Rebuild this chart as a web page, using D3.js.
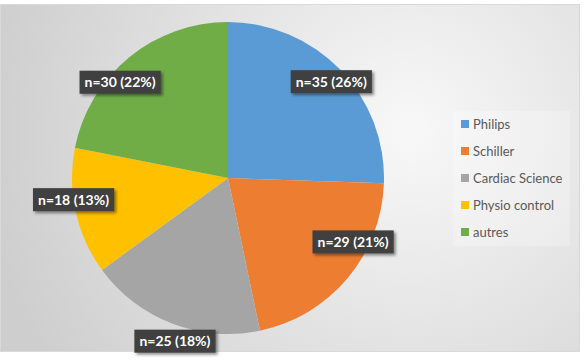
<!DOCTYPE html>
<html>
<head>
<meta charset="utf-8">
<script src="https://cdn.jsdelivr.net/npm/d3@7"></script>
<style>
  html, body { margin: 0; padding: 0; background: #fff; }
  svg { display: block; }
  .legend text { font-family: Lato, "Open Sans", sans-serif; font-size: 13px; fill: #595959; }
  .labels text { font-family: Lato, "Open Sans", sans-serif; font-size: 14px; font-weight: bold; fill: #fff; }
</style>
</head>
<body>
<div id="chart"></div>
<script>
// data
const categories = ['Philips', 'Schiller', 'Cardiac Science', 'Physio control', 'autres'];
const counts = [35, 29, 25, 18, 30];
const percents = [26, 21, 18, 13, 22];
const colors = ['#5b9bd5', '#ed7d31', '#a5a5a5', '#ffc000', '#70ad47'];

// excel "best fit" label nudges (radius factor, angle shift in degrees)
const labelFit = [[0.905, 1], [0.9, -13], [1.1, -3], [1.0, 4.5], [0.925, -9]];

const width = 586;
const height = 360;
const cx = 228;
const cy = 178;
const radius = 156;

const svg = d3.select('#chart').append('svg')
    .attr('width', width).attr('height', height);

const defs = svg.append('defs');
const grad = defs.append('radialGradient').attr('id', 'bg')
    .attr('gradientUnits', 'userSpaceOnUse')
    .attr('cx', 410).attr('cy', 130).attr('r', 430);
grad.append('stop').attr('offset', '0%').attr('stop-color', '#f8f8f8');
grad.append('stop').attr('offset', '45%').attr('stop-color', '#e5e5e5');
grad.append('stop').attr('offset', '100%').attr('stop-color', '#cecece');

const shadow = defs.append('filter').attr('id', 'shadow')
    .attr('x', '-20%').attr('y', '-40%').attr('width', '150%').attr('height', '200%');
shadow.append('feDropShadow').attr('dx', 2).attr('dy', 2).attr('stdDeviation', 1.5)
    .attr('flood-color', '#000').attr('flood-opacity', 0.45);

// chart area
svg.append('rect')
    .attr('x', 0.5).attr('y', 4.5).attr('width', 579).attr('height', 347)
    .attr('fill', 'url(#bg)').attr('stroke', '#d9d9d9');

const g = svg.append('g').attr('transform', 'translate(' + cx + ',' + cy + ')');

const pie = d3.pie().sort(null).value((d) => d);
const arc = d3.arc().innerRadius(0).outerRadius(radius);
const arcs = pie(counts);

g.append('g').attr('class', 'slices').selectAll('path')
    .data(arcs)
    .enter()
    .append('path')
    .attr('d', arc)
    .attr('fill', (d, i) => colors[i]);

// data labels
const labels = g.append('g').attr('class', 'labels').selectAll('g')
    .data(arcs)
    .enter()
    .append('g')
    .attr('transform', (d, i) => {
        const a = (d.startAngle + d.endAngle) / 2 + labelFit[i][1] * Math.PI / 180;
        const r = radius * labelFit[i][0];
        return 'translate(' + (r * Math.sin(a)) + ',' + (-r * Math.cos(a)) + ')';
    });

labels.append('text')
    .attr('text-anchor', 'middle')
    .attr('dy', '0.35em')
    .text((d, i) => 'n=' + counts[i] + ' (' + percents[i] + '%)');

labels.each(function () {
    const grp = d3.select(this);
    const bb = grp.select('text').node().getBBox();
    grp.insert('rect', 'text')
        .attr('x', bb.x - 5).attr('y', -11.5)
        .attr('width', bb.width + 10).attr('height', 23)
        .attr('fill', '#404040')
        .attr('filter', 'url(#shadow)');
});

// legend
const legend = svg.append('g').attr('class', 'legend').attr('transform', 'translate(453,111)');
legend.append('rect')
    .attr('width', 117).attr('height', 135)
    .attr('fill', '#ffffff').attr('fill-opacity', 0.25);

const y = d3.scalePoint().domain(categories).range([13, 121]);

const item = legend.selectAll('g.item')
    .data(categories)
    .enter()
    .append('g')
    .attr('class', 'item')
    .attr('transform', (d) => 'translate(8,' + y(d) + ')');

item.append('rect')
    .attr('x', 0).attr('y', -4).attr('width', 8).attr('height', 8)
    .attr('fill', (d, i) => colors[i]);

item.append('text')
    .attr('x', 12).attr('dy', '0.35em')
    .text((d) => d);
</script>
</body>
</html>
